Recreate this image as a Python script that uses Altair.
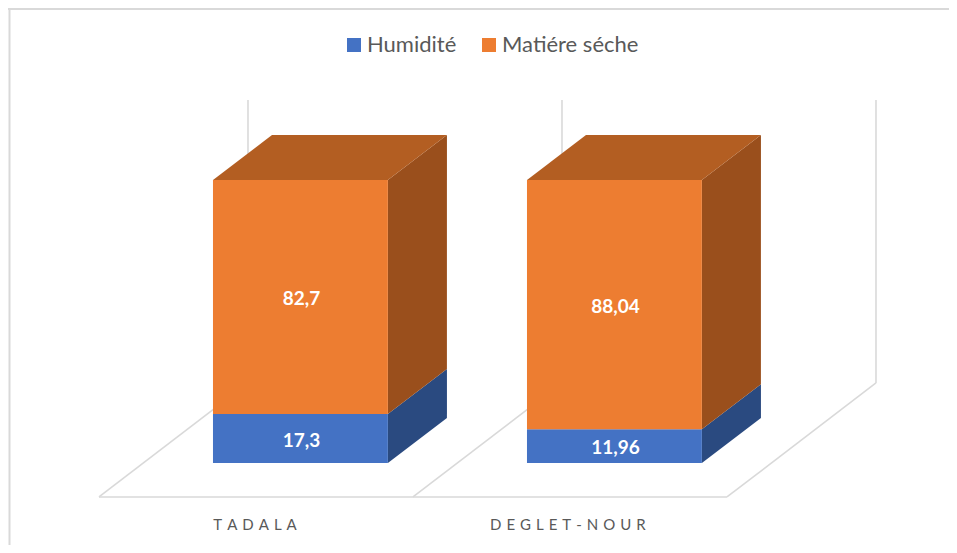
import altair as alt
import pandas as pd

categories = ["TADALA", "DEGLET-NOUR"]
axis_labels = ["T\u2004A\u2004D\u2004A\u2004L\u2004A", "D\u2004E\u2004G\u2004L\u2004E\u2004T\u2004-\u2004N\u2004O\u2004U\u2004R"]
series = ["Humidité", "Matière"]
series_names = ["Humidité", "Matiére séche"]
humidite = [17.3, 11.96]
matiere = [82.7, 88.04]
front_colors = ["#4472C4", "#ED7D31"]
side_colors = ["#2A4A80", "#9A4F1C"]
top_color = "#B35E22"
grid_color = "#D9D9D9"
text_color = "#595959"
font = "Lato"

# oblique projection of the 3-D box
FLOOR_V = -12.0
WALL_DU = 0.4745
WALL_DV = 40.3
BAR_LO = 0.363
BAR_HI = 0.920
BAR_DU = 0.188
BAR_DV = 15.9

xs = alt.Scale(domain=[0, 2], range=[91, 719], zero=False, nice=False)
ys = alt.Scale(domain=[0, 100], range=[455, 172], zero=False, nice=False)
X = lambda f: alt.X(f, type="quantitative", scale=xs, axis=None)
Y = lambda f: alt.Y(f, type="quantitative", scale=ys, axis=None)

# frame
frame_left = alt.Chart(pd.DataFrame({"a": [0]})).mark_rule(color=grid_color, strokeWidth=2).encode(
    x=alt.value(1.5), y=alt.value(0), y2=alt.value(537))
frame_top = alt.Chart(pd.DataFrame({"a": [0]})).mark_rule(color=grid_color, strokeWidth=2).encode(
    y=alt.value(1), x=alt.value(0), x2=alt.value(941))

# floor and walls
floor_rows = [{"u": 0, "v": FLOOR_V, "u2": 2, "v2": FLOOR_V}]
for i in range(3):
    floor_rows.append({"u": i, "v": FLOOR_V, "u2": i + WALL_DU, "v2": FLOOR_V + WALL_DV})
    floor_rows.append({"u": i + WALL_DU, "v": FLOOR_V + WALL_DV, "u2": i + WALL_DU, "v2": FLOOR_V + WALL_DV + 100})
floor = alt.Chart(pd.DataFrame(floor_rows)).mark_rule(color=grid_color, strokeWidth=1.6).encode(
    x=X("u"), x2="u2", y=Y("v"), y2="v2")

side_rows, top_rows, front_rows, label_rows = [], [], [], []
for i, cat in enumerate(categories):
    x0, x1 = i + BAR_LO, i + BAR_HI
    lo = 0
    for j, vals in enumerate([humidite, matiere]):
        hi = lo + vals[i]
        key = f"{i}-{j}"
        side_rows.append({"k": key, "s": series[j], "u": x1, "a": hi, "b": lo})
        side_rows.append({"k": key, "s": series[j], "u": x1 + BAR_DU, "a": hi + BAR_DV, "b": lo + BAR_DV})
        front_rows.append({"cat": cat, "s": series_names[j], "u": x0, "u2": x1, "a": hi, "b": lo})
        label_rows.append({"u": (x0 + x1) / 2, "v": (hi + lo) / 2, "t": f"{vals[i]:g}".replace(".", ",")})
        lo = hi
    top_rows.append({"k": str(i), "v": lo, "u": x0, "u2": x1})
    top_rows.append({"k": str(i), "v": lo + BAR_DV, "u": x0 + BAR_DU, "u2": x1 + BAR_DU})

side_df = pd.DataFrame(side_rows)
sides = alt.Chart(side_df).mark_area(orient="vertical", interpolate="linear", opacity=1).encode(
    x=X("u"), y=Y("a"), y2="b", detail="k:N",
    fill=alt.Fill("s:N", scale=alt.Scale(domain=series, range=side_colors), legend=None),
)
tops = alt.Chart(pd.DataFrame(top_rows)).mark_area(orient="horizontal", interpolate="linear", color=top_color, opacity=1).encode(
    y=Y("v"), x=X("u"), x2="u2", detail="k:N")
fronts = alt.Chart(pd.DataFrame(front_rows)).mark_rect().encode(
    x=X("u"), x2="u2", y=Y("a"), y2="b",
    color=alt.Color("s:N", title=None, scale=alt.Scale(domain=series_names, range=front_colors),
                    legend=alt.Legend(orient="none", legendX=335, legendY=26, direction="horizontal",
                                      symbolType="square", symbolSize=196, symbolStrokeWidth=0,
                                      labelFont=font, labelFontSize=22, labelColor=text_color,
                                      labelOffset=2, columnPadding=21)),
)
values = alt.Chart(pd.DataFrame(label_rows)).mark_text(
    color="white", font=font, fontWeight="bold", fontSize=19, baseline="middle", dy=2, dx=1).encode(
    x=X("u"), y=Y("v"), text="t:N")

cat_df = pd.DataFrame({"t": axis_labels, "u": [0.497, 1.493]})
cats = alt.Chart(cat_df).mark_text(color=text_color, font=font, fontSize=15, baseline="middle").encode(
    x=X("u"), y=alt.value(517), text="t:N")

chart = alt.layer(frame_left, frame_top, floor, sides, tops, fronts, values, cats).resolve_scale(
    color="independent", fill="independent"
).properties(width=941, height=537, padding=0, background="white",
             autosize=alt.AutoSizeParams(type="none")).configure_view(stroke=None)

chart.save("out.html", embed_options={"renderer": "svg", "actions": False})
